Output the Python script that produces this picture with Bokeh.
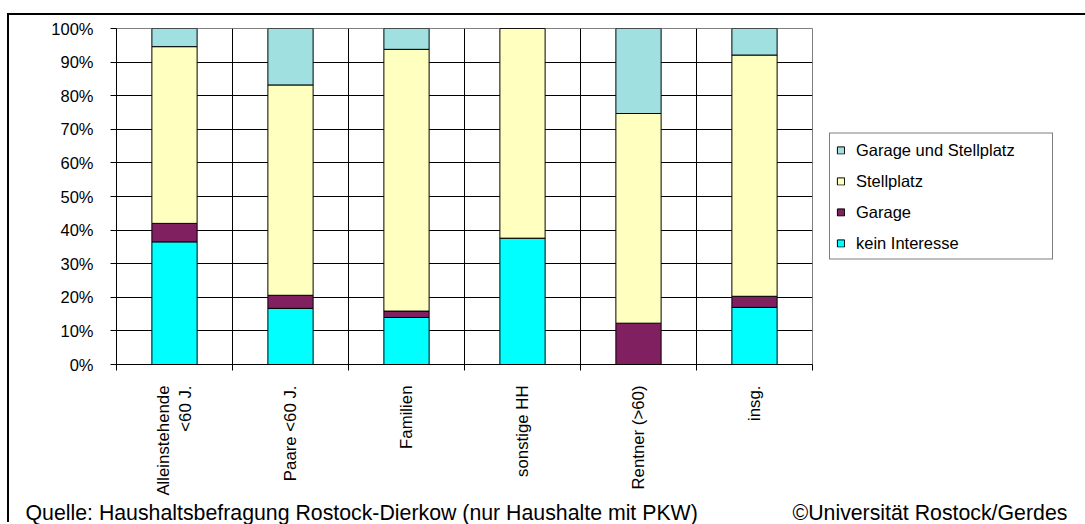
import math
import numpy as np
from bokeh.plotting import figure
from bokeh.models import (Range1d, FixedTicker, Legend, LegendItem, Title,
                          ColumnDataSource)
from bokeh.embed import file_html
from bokeh.resources import INLINE

# ---- data (percent of households) ----
categories = ["Alleinstehende\n<60 J.", "Paare <60 J.", "Familien",
              "sonstige HH", "Rentner (>60)", "insg."]
kein_interesse = [36.5, 16.7, 14.0, 37.6, 0.0, 17.0]
garage = [5.5, 3.9, 1.9, 0.0, 12.3, 3.3]
stellplatz = [52.6, 62.6, 77.9, 62.4, 62.4, 71.8]
garage_und_stellplatz = [5.4, 16.8, 6.2, 0.0, 25.3, 7.9]
series_names = ["kein Interesse", "Garage", "Stellplatz", "Garage und Stellplatz"]
series_colors = ["#00FFFF", "#802060", "#FFFFC0", "#A0E0E0"]
y_ticks = [0, 10, 20, 30, 40, 50, 60, 70, 80, 90, 100]
y_tick_labels = ["0%", "10%", "20%", "30%", "40%", "50%", "60%", "70%", "80%", "90%", "100%"]
source_text = "Quelle: Haushaltsbefragung Rostock-Dierkow (nur Haushalte mit PKW)"
copyright_text = "\u00a9Universit\u00e4t Rostock/Gerdes"

FONT = "Liberation Sans"
FS = "16.5px"
FS_X = "16.8px"
FS_FOOT = "21.3px"

n = len(categories)
xpos = np.arange(n) + 0.5
src = ColumnDataSource(dict(x=xpos,
                            **{series_names[0]: kein_interesse,
                               series_names[1]: garage,
                               series_names[2]: stellplatz,
                               series_names[3]: garage_und_stellplatz}))

p = figure(frame_width=696, frame_height=336, output_backend="svg",
           toolbar_location=None,
           x_range=Range1d(0, n), y_range=Range1d(y_ticks[0], y_ticks[-1]),
           min_border_left=107, min_border_right=271, min_border_top=13,
           min_border_bottom=150,
           margin=(15, 0, 0, 9),
           styles={"box-shadow": "-2px -2px 0 0 black"})
p.background_fill_color = "white"
p.border_fill_color = "white"
p.outline_line_color = "#808080"
p.outline_line_width = 1

renderers = p.vbar_stack(series_names, x="x", width=0.39, color=series_colors,
                         line_color="black", line_width=1, source=src)

# x axis: labels at category centres, ticks at category boundaries
xa = p.xaxis[0]
xa.ticker = FixedTicker(ticks=list(xpos), minor_ticks=list(range(n + 1)))
xa.major_label_overrides = {float(x): c for x, c in zip(xpos, categories)}
xa.major_tick_out = 0
xa.major_tick_in = 0
xa.minor_tick_out = 6
xa.minor_tick_in = 0
xa.minor_tick_line_color = "black"
xa.axis_line_color = "black"
xa.major_label_orientation = math.pi / 2
xa.major_label_standoff = 15
xa.major_label_text_font = FONT
xa.major_label_text_font_size = FS_X
xa.major_label_text_color = "black"

ya = p.yaxis[0]
ya.ticker = FixedTicker(ticks=y_ticks, minor_ticks=[])
ya.major_label_overrides = {t: l for t, l in zip(y_ticks, y_tick_labels)}
ya.major_tick_out = 6
ya.major_tick_in = 0
ya.minor_tick_out = 0
ya.minor_tick_in = 0
ya.major_tick_line_color = "black"
ya.axis_line_color = "black"
ya.major_label_standoff = 17
ya.major_label_text_font = FONT
ya.major_label_text_font_size = FS
ya.major_label_text_color = "black"

p.xgrid.ticker = FixedTicker(ticks=list(range(1, n)))
p.xgrid.grid_line_color = "black"
p.xgrid.grid_line_width = 1
p.ygrid.ticker = FixedTicker(ticks=y_ticks[1:-1])
p.ygrid.grid_line_color = "black"
p.ygrid.grid_line_width = 1

legend = Legend(items=[LegendItem(label=name, renderers=[r])
                       for name, r in reversed(list(zip(series_names, renderers)))],
                location="center_left")
legend.border_line_color = "black"
legend.border_line_width = 1
legend.background_fill_color = "white"
legend.background_fill_alpha = 1
legend.padding = 6
legend.spacing = 11
legend.margin = 17
legend.label_standoff = 11
legend.glyph_width = 9
legend.glyph_height = 9
legend.label_height = 20
legend.label_width = 190
legend.label_text_font = FONT
legend.label_text_font_size = FS
legend.label_text_color = "black"
p.add_layout(legend, "right")

# footer: source (left) and copyright (right) on one line
footer = source_text + "\u00a0" * 16 + copyright_text
p.add_layout(Title(text=footer, align="left", offset=-91, standoff=0,
                   text_font=FONT, text_font_size=FS_FOOT, text_font_style="normal",
                   text_color="black"), "below")

open("out.html", "w").write(file_html(p, INLINE))
